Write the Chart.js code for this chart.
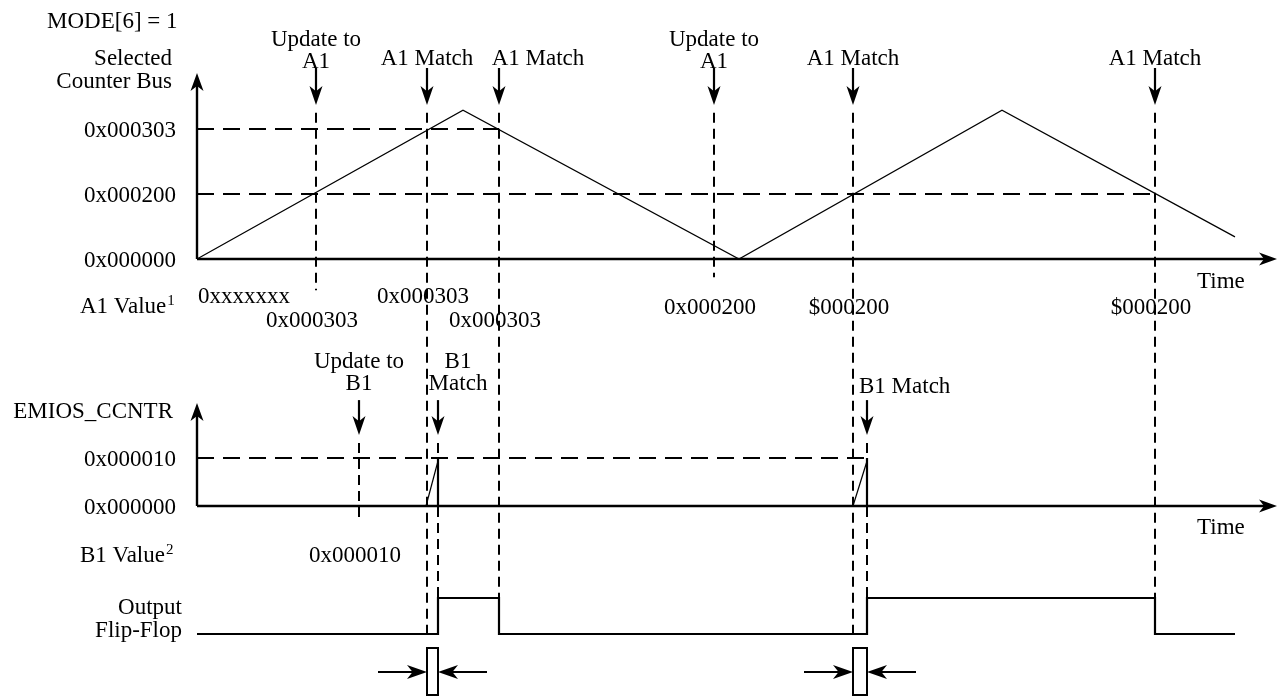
<!DOCTYPE html>
<html>
<head>
<meta charset="utf-8">
<script src="https://cdn.jsdelivr.net/npm/chart.js@4"></script>
<style>
  html, body { margin: 0; padding: 0; background: #fff; }
  #wrap { width: 1278px; height: 696px; position: relative; }
</style>
</head>
<body>
<div id="wrap"><canvas id="timing"></canvas></div>
<script>
// ---- data (time in arbitrary units, 0 = origin of the diagram) ----
const busTime = [0, 266, 542, 805, 1038];
const busLevel = [0, 2.29, 0, 2.29, 0.34];
const busTicks = [0, 1, 2];
const busTickLabels = ['0x000000', '0x000200', '0x000303'];

const a1Times = [119, 230, 302, 517, 656, 958];
const a1Titles = ['Update to\nA1', 'A1 Match', 'A1 Match', 'Update to\nA1', 'A1 Match', 'A1 Match'];
const a1Values = ['0x000303', '0x000303', '0x000303', '0x000200', '$000200', '$000200'];
const a1Initial = '0xxxxxxx';
const a1CompareLevel = [2, 1];
const a1CompareEnd = [302, 958];

const cntTicks = [0, 16];
const cntTickLabels = ['0x000000', '0x000010'];
const cntRampStart = [229, 656];
const cntRampEnd = [241, 670];
const cntCompare = 16;

const b1Times = [162, 241, 670];
const b1Titles = ['Update to\nB1', 'B1\nMatch', 'B1 Match'];
const b1Value = '0x000010';

const outTime = [0, 241, 241, 302, 302, 670, 670, 958, 958, 1038];
const outLevel = [0, 0, 1, 1, 0, 0, 1, 1, 0, 0];

const timeEnd = 1080;

// ---- layout helpers ----
const W = 1278, H = 696;
const FONT = '23px "Liberation Serif"';
const SUP = '15px "Liberation Serif"';
function band(zeroPx, pxPerUnit) {
  return { min: (zeroPx - H) / pxPerUnit, max: zeroPx / pxPerUnit };
}
const busBand = band(259, 65);
const cntBand = band(506, 3);
const outBand = band(634, 36);

function pts(xs, ys) { return xs.map((t, i) => ({ x: t, y: ys[i] })); }

const datasets = [];
datasets.push({ data: pts(busTime, busLevel), yAxisID: 'yBus', borderWidth: 1.2 });
a1CompareLevel.forEach((lv, i) => {
  datasets.push({ data: pts([0, a1CompareEnd[i]], [lv, lv]), yAxisID: 'yBus', borderWidth: 2, borderDash: [17, 9] });
});
datasets.push({ data: pts([0, b1Times[2]], [cntCompare, cntCompare]), yAxisID: 'yCnt', borderWidth: 2, borderDash: [17, 9] });
cntRampStart.forEach((t, i) => {
  datasets.push({ data: pts([t, cntRampEnd[i]], [0, cntCompare - 1]), yAxisID: 'yCnt', borderWidth: 1.2 });
  datasets.push({ data: pts([cntRampEnd[i], cntRampEnd[i]], [cntCompare, 0]), yAxisID: 'yCnt', borderWidth: 2.2 });
});
datasets.push({ data: pts(outTime, outLevel), yAxisID: 'yOut', borderWidth: 2.2 });
datasets.forEach(d => {
  d.borderColor = '#000'; d.pointRadius = 0; d.tension = 0; d.fill = false;
  d.borderCapStyle = 'butt';
});

// ---- drawing helpers ----
function head(ctx, x, y, ang, len, half) {
  const c = Math.cos(ang), s = Math.sin(ang);
  const bx = x - len * c, by = y - len * s;
  const nx = x - len * 0.72 * c, ny = y - len * 0.72 * s;
  ctx.beginPath();
  ctx.moveTo(x, y);
  ctx.lineTo(bx - half * s, by + half * c);
  ctx.lineTo(nx, ny);
  ctx.lineTo(bx + half * s, by - half * c);
  ctx.closePath();
  ctx.fill();
}
function line(ctx, x0, y0, x1, y1, w, dash) {
  ctx.save();
  ctx.lineWidth = w;
  ctx.setLineDash(dash || []);
  ctx.beginPath();
  ctx.moveTo(x0, y0);
  ctx.lineTo(x1, y1);
  ctx.stroke();
  ctx.restore();
}
function arrow(ctx, x0, y0, x1, y1, w, len, half) {
  const ang = Math.atan2(y1 - y0, x1 - x0);
  line(ctx, x0, y0, x1 - Math.cos(ang) * len * 0.6, y1 - Math.sin(ang) * len * 0.6, w);
  head(ctx, x1, y1, ang, len, half);
}
function lines(ctx, text, x, yLast, align, gap) {
  const parts = text.split('\n');
  ctx.textAlign = align;
  parts.forEach((p, i) => ctx.fillText(p, x, yLast - (parts.length - 1 - i) * gap));
}
function withSup(ctx, text, sup, x, y) {
  ctx.textAlign = 'left';
  ctx.font = FONT;
  ctx.fillText(text, x, y);
  const w = ctx.measureText(text).width;
  ctx.font = SUP;
  ctx.fillText(sup, x + w + 1, y - 8);
  ctx.font = FONT;
}

const diagram = {
  id: 'diagram',
  afterDatasetsDraw(chart) {
    const { ctx } = chart;
    const { x, yBus, yCnt, yOut } = chart.scales;
    const sc = { yBus, yCnt, yOut };
    const X = t => x.getPixelForValue(t);
    const x0 = X(0), xEnd = X(timeEnd);
    ctx.save();
    ctx.fillStyle = '#000';
    ctx.strokeStyle = '#000';
    ctx.font = FONT;
    ctx.textBaseline = 'alphabetic';

    // axes
    const bz = yBus.getPixelForValue(0), cz = yCnt.getPixelForValue(0), oz = yOut.getPixelForValue(0);
    arrow(ctx, x0, bz, x0, yBus.getPixelForValue(2.86), 2.4, 18, 6.5);
    arrow(ctx, x0, bz, xEnd, bz, 2.4, 18, 6.5);
    arrow(ctx, x0, cz, x0, yCnt.getPixelForValue(34.3), 2.4, 18, 6.5);
    arrow(ctx, x0, cz, xEnd, cz, 2.4, 18, 6.5);

    // tick labels
    ctx.textAlign = 'right';
    busTicks.forEach((v, i) => ctx.fillText(busTickLabels[i], 176, yBus.getPixelForValue(v) + 8));
    cntTicks.forEach((v, i) => ctx.fillText(cntTickLabels[i], 176, yCnt.getPixelForValue(v) + 8));

    // side captions
    ctx.textAlign = 'left';
    ctx.fillText('MODE[6] = 1', 47, 28);
    lines(ctx, 'Selected\nCounter Bus', 172, 88, 'right', 23);
    ctx.textAlign = 'right';
    ctx.fillText('EMIOS_CCNTR', 173, 418);
    lines(ctx, 'Output\nFlip-Flop', 182, 637, 'right', 23);
    withSup(ctx, 'A1 Value', '1', 80, bz + 54);
    withSup(ctx, 'B1 Value', '2', 80, cz + 56);
    ctx.textAlign = 'left';
    ctx.fillText('Time', X(1000), bz + 29);
    ctx.fillText('Time', X(1000), cz + 28);

    // A1 events
    const a1End = [['yBus', -0.48], ['yOut', 0], ['yOut', 1], ['yBus', -0.28], ['yOut', 0], ['yOut', 1]];
    const a1Row = [68, 44, 68, 55, 55, 55];
    const a1Shift = [0, 0, 39, 0, 0, 0];
    a1Times.forEach((t, i) => {
      const px = X(t);
      arrow(ctx, px, 68, px, yBus.getPixelForValue(2.37), 2.2, 19, 6.5);
      const e = a1End[i];
      line(ctx, px, yBus.getPixelForValue(2.25), px, sc[e[0]].getPixelForValue(e[1]), 2, [10, 6]);
      const two = a1Titles[i].includes('\n');
      lines(ctx, a1Titles[i], px + a1Shift[i], two ? 68 : 65, 'center', 22);
      ctx.textAlign = 'center';
      ctx.fillText(a1Values[i], px - 4, bz + a1Row[i]);
    });
    ctx.textAlign = 'left';
    ctx.fillText(a1Initial, x0 + 1, bz + 44);

    // B1 events
    const b1End = [['yCnt', -5.7], ['yOut', 1], ['yOut', 1]];
    b1Times.forEach((t, i) => {
      const px = X(t);
      arrow(ctx, px, yCnt.getPixelForValue(35.3), px, yCnt.getPixelForValue(23.7), 2.2, 19, 6.5);
      const e = b1End[i];
      line(ctx, px, yCnt.getPixelForValue(21), px, sc[e[0]].getPixelForValue(e[1]), 2, [10, 6]);
    });
    lines(ctx, b1Titles[0], X(b1Times[0]), 390, 'center', 22);
    lines(ctx, b1Titles[1], X(b1Times[1]) + 20, 390, 'center', 22);
    ctx.textAlign = 'left';
    ctx.fillText(b1Titles[2], X(b1Times[2]) - 8, 393);
    ctx.textAlign = 'center';
    ctx.fillText(b1Value, X(b1Times[0]) - 4, cz + 56);

    // delay markers between A1 match and B1 match
    [[a1Times[1], b1Times[1]], [a1Times[4], b1Times[2]]].forEach(([ta, tb]) => {
      const xa = X(ta), xb = X(tb);
      ctx.lineWidth = 2;
      ctx.strokeRect(xa, oz + 14, xb - xa, 47);
      arrow(ctx, xa - 49, oz + 38, xa, oz + 38, 2.2, 20, 7);
      arrow(ctx, xb + 49, oz + 38, xb, oz + 38, 2.2, 20, 7);
    });
    ctx.restore();
  }
};

new Chart(document.getElementById('timing'), {
  type: 'line',
  data: { datasets },
  options: {
    responsive: true,
    maintainAspectRatio: false,
    animation: false,
    layout: { padding: 0 },
    plugins: { legend: { display: false }, tooltip: { enabled: false } },
    scales: {
      x: { type: 'linear', display: false, min: -197, max: W - 197 },
      yBus: { type: 'linear', display: false, min: busBand.min, max: busBand.max },
      yCnt: { type: 'linear', display: false, min: cntBand.min, max: cntBand.max },
      yOut: { type: 'linear', display: false, min: outBand.min, max: outBand.max }
    }
  },
  plugins: [diagram]
});
</script>
</body>
</html>
